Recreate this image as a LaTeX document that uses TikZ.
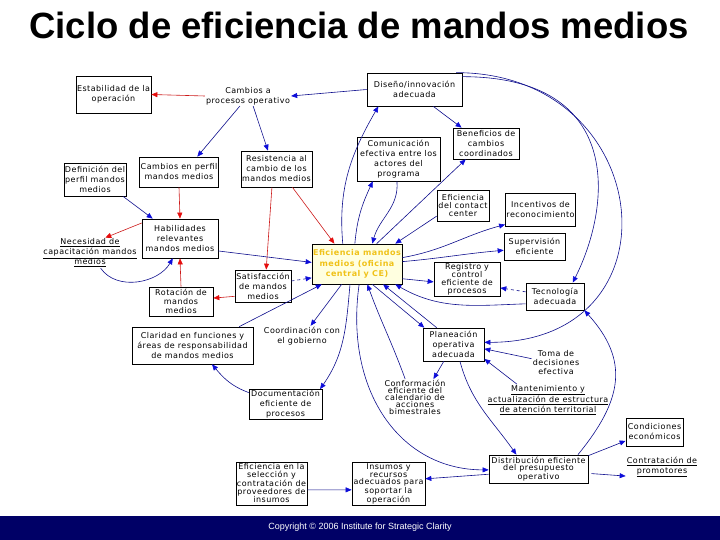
\documentclass[tikz,border=0pt]{standalone}
\usepackage{fontspec}
\setmainfont{DejaVu Sans}
\newfontfamily\boxfont[LetterSpace=6]{DejaVu Sans}
\newfontfamily\headfont{Liberation Sans}
\usetikzlibrary{arrows.meta}
\definecolor{linkblue}{rgb}{0.05,0.05,0.55}
\definecolor{tipblue}{rgb}{0.05,0.05,0.85}
\definecolor{linkred}{rgb}{0.80,0.10,0.10}
\definecolor{tipred}{rgb}{0.90,0.05,0.05}
\definecolor{effill}{rgb}{1,1,0.88}
\definecolor{eftext}{rgb}{0.94,0.76,0.10}
\definecolor{bandnavy}{rgb}{0,0,0.40}

\begin{document}
\begin{tikzpicture}[
    x=1pt, y=1pt,
    box/.style={
        draw=black, line width=0.7pt, fill=white, align=center, inner sep=1pt,
        font=\boxfont\fontsize{8}{10}\selectfont
    },
    bx/.style 2 args={box, minimum width=#1pt, minimum height=#2pt},
    tight/.style={font=\boxfont\fontsize{8}{7.6}\selectfont},
    tighter/.style={font=\boxfont\fontsize{8}{7}\selectfont},
    snug/.style={font=\boxfont\fontsize{8}{9}\selectfont},
    lbl/.style={align=center, inner sep=1pt, font=\boxfont\fontsize{8}{10}\selectfont},
    core/.style={   % central variable
        draw=black, line width=0.7pt, fill=effill, text=eftext, align=center,
        inner sep=1pt, minimum width=90pt, minimum height=40pt,
        font=\boxfont\bfseries\fontsize{8}{10.5}\selectfont
    },
    bluelink/.style={linkblue, line width=0.6pt,
        -{Triangle[length=6pt, width=5pt, color=tipblue]}},
    redlink/.style={linkred, line width=0.6pt,
        -{Triangle[length=6pt, width=5pt, color=tipred]}},
]

\useasboundingbox (0,0) rectangle (720,-540);

%% ===================== TITLE AND FOOTER =====================
\node[font=\headfont\bfseries\fontsize{36.5}{40}\selectfont, inner sep=0pt] (title)
  at (359,-25) {Ciclo de eficiencia de mandos medios};

\fill[bandnavy] (0,-516) rectangle (720,-540);
\node[text=white, font=\headfont\fontsize{9}{11}\selectfont] (copy)
  at (360,-527) {Copyright © 2006 Institute for Strategic Clarity};

%% ===================== VARIABLES =====================
\node[bx={73}{37}] (estab) at (113.5,-94.5) {Estabilidad de la\\operación};
\node[lbl] (cproc) at (248,-96) {Cambios a\\procesos operativo};
\node[bx={95}{33}] (disenio) at (414.5,-89.5) {Diseño/innovación\\adecuada};
\node[bx={60}{33}] (defper) at (95,-179.5) {Definición del\\perfil mandos\\medios};
\node[bx={78}{30}] (cperf) at (179,-172) {Cambios en perfil\\mandos medios};
\node[bx={71}{36}] (resist) at (276.5,-169) {Resistencia al\\cambio de los\\mandos medios};
\node[bx={83}{44}] (comun) at (398.5,-159) {Comunicación\\efectiva entre los\\actores del\\programa};
\node[bx={66}{31}] (benef) at (486,-143.5) {Beneficios de\\cambios\\coordinados};
\node[bx={52}{31}, tight] (contact) at (463,-205.5) {Eficiencia\\del contact\\center};
\node[bx={69}{33}] (incent) at (540.5,-209.5) {Incentivos de\\reconocimiento};
\node[lbl] (necap) at (90,-253)
  {\underline{Necesidad de}\\\underline{capacitación mandos}\\\underline{medios}};
\node[bx={76}{39}] (habil) at (180,-238.5) {Habilidades\\relevantes\\mandos medios};
\node[core] (efic) at (357,-264) {Eficiencia mandos\\medios (oficina\\central y CE)};
\node[bx={61}{27}] (superv) at (534.5,-246.5) {Supervisión\\eficiente};
\node[bx={66}{34}, tight] (regis) at (467,-279) {Registro y\\control\\eficiente de\\procesos};
\node[bx={56}{32}] (satisf) at (263,-286) {Satisfacción\\de mandos\\medios};
\node[bx={64}{29}, snug] (rotac) at (181,-301.5) {Rotación de\\mandos\\medios};
\node[bx={58}{27}] (tecno) at (555,-296.5) {Tecnología\\adecuada};
\node[bx={121}{37}] (clarid) at (192.5,-345.5)
  {Claridad en funciones y\\áreas de responsabilidad\\de mandos medios};
\node[lbl] (coord) at (302,-336) {Coordinación con\\el gobierno};
\node[bx={61}{33}] (planea) at (453.5,-344.5) {Planeación\\operativa\\adecuada};
\node[lbl, snug] (toma) at (556,-363) {Toma de\\decisiones\\efectiva};
\node[lbl, tighter] (conform) at (415,-397.5)
  {Conformación\\eficiente del\\calendario de\\acciones\\bimestrales};
\node[lbl] (manten) at (548,-400)
  {\underline{Mantenimiento y}\\\underline{actualización de estructura}\\\underline{de atención territorial}};
\node[bx={73}{29}] (docum) at (285.5,-404.5) {Documentación\\eficiente de\\procesos};
\node[bx={57}{28}] (condic) at (654.5,-432) {Condiciones\\económicos};
\node[lbl] (contrat) at (662,-467) {\underline{Contratación de}\\\underline{promotores}};
\node[bx={99}{28}, tight] (distrib) at (538.5,-469)
  {Distribución eficiente\\del presupuesto\\operativo};
\node[bx={71}{43}, tight] (provee) at (271.5,-483.5)
  {Eficiencia en la\\selección y\\contratación de\\proveedores de\\insumos};
\node[bx={73}{42}, tight] (insumo) at (388.5,-484)
  {Insumos y\\recursos\\adecuados para\\soportar la\\operación};

%% ===================== LINKS (upper left) =====================
\draw[redlink] (cproc.west) -- (estab.east);
\draw[bluelink] (disenio.west) -- (cproc.east);
\draw[bluelink] (cproc.231) -- (cperf.40);
\draw[bluelink] (cproc.297) -- (resist.115);
\draw[bluelink] (defper.329) -- (habil.144);
\draw[redlink] (cperf.south) -- (habil.north);
\draw[redlink] (habil.158) -- (necap.45);
\draw[bluelink] (necap.305) to[out=-55, in=-120] (habil.250);
\draw[redlink] (rotac.north) -- (habil.south);
\draw[redlink] (satisf.200) -- (rotac.6);
\draw[redlink] (resist.256) -- (satisf.79);
\draw[redlink] (resist.311) -- (efic.138);

%% ===================== LINKS into / out of the core =====================
\draw[bluelink] (habil.342) -- (efic.178);
\draw[bluelink, dashed] (satisf.10) -- (efic.197);
\draw[bluelink] (clarid.22) -- (efic.210);
\draw[bluelink] (efic.233) -- (coord.50);
\draw[bluelink] (efic.251) to[out=-95, in=55] (docum.24);
\draw[bluelink] (docum.162) to[out=160, in=-50] (clarid.316);
\draw[bluelink] (efic.125) to[out=95, in=-120] (disenio.205);
\draw[bluelink] (efic.96) to[out=85, in=-115] (comun.221);
\draw[bluelink] (comun.266) to[out=-85, in=75] (efic.53);
\draw[bluelink] (efic.46) -- (benef.218);
\draw[bluelink] (contact.202) -- (efic.28);
\draw[bluelink] (disenio.318) -- (benef.147);
\draw[bluelink] (efic.8) to[out=10, in=195] (incent.203);
\draw[bluelink] (efic.3) to[out=5, in=185] (superv.187);
\draw[bluelink] (efic.342) -- (regis.185);
\draw[bluelink, dashed] (tecno.171) -- (regis.345);
\draw[bluelink] (tecno.194) to[out=182, in=-30] (efic.332);
\draw[bluelink] (efic.307) -- (planea.150);
\draw[bluelink] (planea.135) -- (efic.322);
\draw[bluelink] (conform.118) to[out=110, in=-70] (efic.297);

%% ===================== LINKS (lower right) =====================
\draw[bluelink] (planea.240) -- (conform.45);
\draw[bluelink] (toma.170) -- (planea.352);
\draw[bluelink] (manten.153) -- (planea.335);
\draw[bluelink] (disenio.15) .. controls +(160,0) and +(40,80) .. (tecno.38);
\draw[bluelink] (disenio.22) .. controls +(200,0) and +(200,0) .. (planea.4);
\draw[bluelink] (distrib.20) .. controls +(45,55) and +(45,-50) .. (tecno.south east);
\draw[bluelink] (planea.291) to[out=-75, in=125] (distrib.147);
\draw[bluelink] (efic.276) .. controls +(-15,-106) and +(-89,0) .. (distrib.181);
\draw[bluelink] (distrib.186) -- (insumo.8);
\draw[bluelink] (provee.350) -- (insumo.189);
\draw[bluelink] (distrib.15) -- (condic.197);
\draw[bluelink, shorten <=3pt] (distrib.355) -- (contrat.194);

\end{tikzpicture}
\end{document}
